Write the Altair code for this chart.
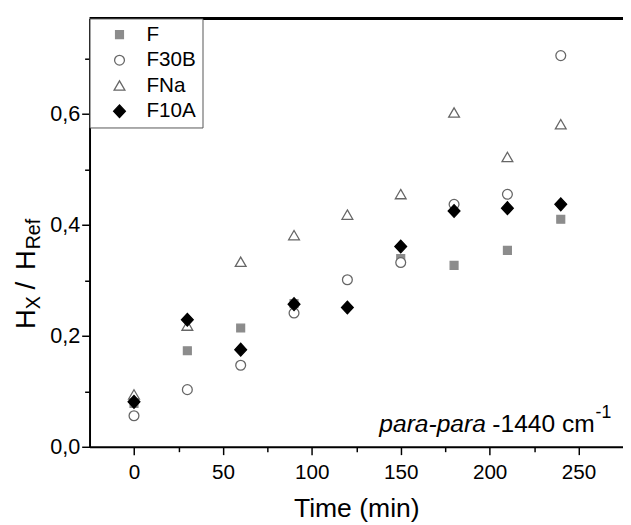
import altair as alt
import pandas as pd

# ---- data ----
series_names = ["F", "F30B", "FNa", "F10A"]
time_F = [0, 30, 60, 90, 150, 180, 210, 240]
vals_F = [0.078, 0.173, 0.214, 0.258, 0.339, 0.327, 0.354, 0.410]
time_all = [0, 30, 60, 90, 120, 150, 180, 210, 240]
vals_F30B = [0.056, 0.103, 0.147, 0.241, 0.301, 0.332, 0.437, 0.455, 0.705]
vals_FNa = [0.094, 0.218, 0.333, 0.381, 0.418, 0.455, 0.602, 0.522, 0.581]
vals_F10A = [0.081, 0.229, 0.175, 0.257, 0.251, 0.361, 0.425, 0.430, 0.437]

x_tick_values = [0, 25, 50, 75, 100, 125, 150, 175, 200, 225, 250]
y_tick_values = [0.0, 0.1, 0.2, 0.3, 0.4, 0.5, 0.6, 0.7]

rows = []
for name, ts, vs in [("F", time_F, vals_F), ("F30B", time_all, vals_F30B),
                     ("FNa", time_all, vals_FNa), ("F10A", time_all, vals_F10A)]:
    for t, v in zip(ts, vs):
        rows.append({"series": name, "time": t, "value": v})
df = pd.DataFrame(rows)

FONT = "Liberation Sans"
W, H = 543, 436

shape_range = [
    "M-0.8,-0.8H0.8V0.8H-0.8Z",
    "circle",
    "M0,-1.0L1.1,0.9L-1.1,0.9Z",
    "M0,-1.3L1.2,0L0,1.3L-1.2,0Z",
]
stroke_range = ["#8c8c8c", "#666666", "#666666", "#000000"]
fill_range = ["#8c8c8c", "#ffffff", "#ffffff", "#000000"]

legend = alt.Legend(
    title=None, orient="none", legendX=0, legendY=0,
    labelFont=FONT, labelFontSize=21, labelColor="#000",
    strokeColor="#555555", fillColor="#ffffff", padding=6,
    rowPadding=4, symbolOffset=14, labelOffset=17, symbolSize=100,
    symbolStrokeWidth=1.3,
)

x_axis = alt.Axis(
    values=x_tick_values, title="Time (min)", titleFont=FONT, titleFontSize=27,
    titleFontWeight="normal", titleColor="#000", titlePadding=14,
    labelFont=FONT, labelFontSize=21, labelColor="#000", labelPadding=7,
    labelExpr="datum.value % 50 === 0 ? datum.label : ''",
    tickSize={"condition": {"test": "datum.value % 50 === 0", "value": 8}, "value": 5},
    tickColor="#000", tickWidth=1.5, domainColor="#000", domainWidth=2, grid=False,
)
y_axis = alt.Axis(
    values=y_tick_values, title=None,
    labelFont=FONT, labelFontSize=22, labelColor="#000", labelPadding=2,
    labelExpr="round(datum.value*10) % 2 === 0 ? replace(format(datum.value, '.1f'), '.', ',') : ''",
    tickSize={"condition": {"test": "round(datum.value*10) % 2 === 0", "value": 8}, "value": 5},
    tickColor="#000", tickWidth=1.5, domainColor="#000", domainWidth=2, grid=False,
)

points = alt.Chart(df).mark_point(size=100, strokeWidth=1.3, opacity=1).encode(
    x=alt.X("time:Q", scale=alt.Scale(domain=[-25, 275], nice=False, zero=False), axis=x_axis),
    y=alt.Y("value:Q", scale=alt.Scale(domain=[0, 0.772], nice=False, zero=False), axis=y_axis),
    shape=alt.Shape("series:N", scale=alt.Scale(domain=series_names, range=shape_range), legend=legend),
    stroke=alt.Stroke("series:N", scale=alt.Scale(domain=series_names, range=stroke_range), legend=legend),
    fill=alt.Fill("series:N", scale=alt.Scale(domain=series_names, range=fill_range), legend=legend),
)

one = pd.DataFrame({"k": [0]})

top_frame = alt.Chart(one).mark_rule(color="#000", strokeWidth=3).encode(
    x=alt.value(0), x2=alt.value(W), y=alt.value(0)
)

def txt(s, x, y, size, style="normal", angle=0, align="left"):
    return alt.Chart(one).mark_text(
        text=s, font=FONT, fontSize=size, fontStyle=style, angle=angle,
        align=align, baseline="alphabetic", color="#000",
    ).encode(x=alt.value(x), y=alt.value(y))

# annotation (relative to plot origin)
annot = [
    txt("para-para", 295, 421, 25, style="italic"),
    txt("-1440 cm", 410, 421, 25),
    txt("-1", 515, 407, 18),
]

# y title H_X / H_Ref, rotated
bx = -56
ytitle = [
    txt("H", bx, 316, 28, angle=270),
    txt("X", bx + 6, 296, 20, angle=270),
    txt("/", bx, 276, 28, angle=270),
    txt("H", bx, 256, 28, angle=270),
    txt("Ref", bx + 6, 235, 20, angle=270),
]

chart = alt.layer(points, top_frame, *annot, *ytitle).properties(
    width=W, height=H,
    autosize=alt.AutoSizeParams(type="none"),
    padding={"left": 83, "top": 6, "right": 0, "bottom": 75},
).configure_view(stroke=None).configure(background="#ffffff")

chart.save("out.html", embed_options={"renderer": "svg", "actions": False})
